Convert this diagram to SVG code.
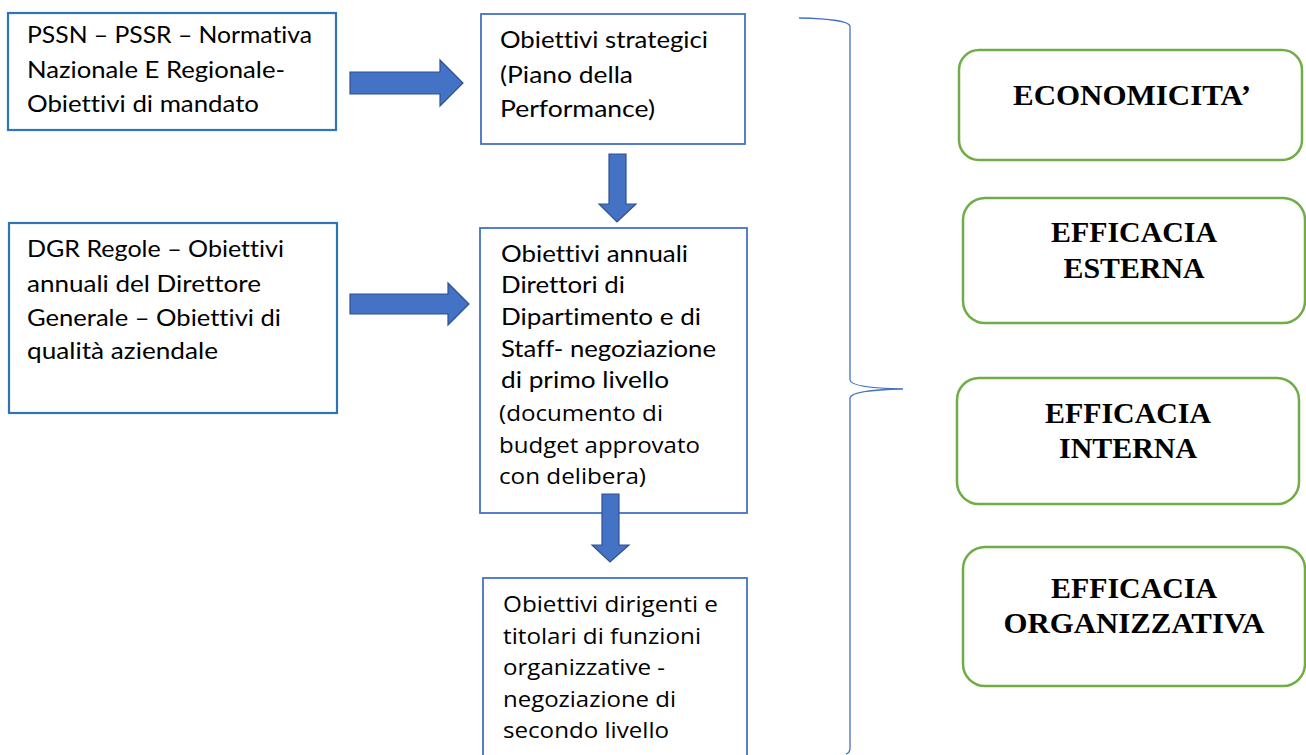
<svg xmlns="http://www.w3.org/2000/svg" width="1306" height="755" viewBox="0 0 1306 755">
<style>
.bx{fill:#fff;stroke:#4472C4;stroke-width:1.8}
.bx2{fill:#fff;stroke:#2E75B6;stroke-width:2.2}
.gb{fill:#fff;stroke:#70AD47;stroke-width:2.5}
text{font-variant-ligatures:none}
.c{font-family:Lato,"Liberation Sans",sans-serif;font-size:23px;fill:#000}
.s{font-family:"Open Sans","Liberation Sans",sans-serif;font-size:21.5px;fill:#000}
.t{font-family:"Liberation Serif","Times New Roman",serif;font-weight:bold;font-size:30px;fill:#000;text-anchor:middle}
.ar{fill:#4472C4;stroke:#2F528F;stroke-width:1.2}
.br{fill:none;stroke:#4472C4;stroke-width:1.3}
</style>
<rect width="1306" height="755" fill="#fff"/>
<g id="n1">
<rect class="bx2" x="8" y="13" width="328" height="117"/>
<text class="c" x="27" y="43" textLength="285" lengthAdjust="spacingAndGlyphs">PSSN – PSSR – Normativa</text>
<text class="c" x="27" y="78" textLength="258" lengthAdjust="spacingAndGlyphs">Nazionale E Regionale-</text>
<text class="c" x="27" y="112" textLength="232" lengthAdjust="spacingAndGlyphs">Obiettivi di mandato</text>
</g>
<g id="n2">
<rect class="bx" x="481" y="14" width="264" height="130"/>
<text class="c" x="500" y="48" textLength="208" lengthAdjust="spacingAndGlyphs">Obiettivi strategici</text>
<text class="c" x="500" y="83" textLength="133" lengthAdjust="spacingAndGlyphs">(Piano della</text>
<text class="c" x="500" y="117" textLength="155" lengthAdjust="spacingAndGlyphs">Performance)</text>
</g>
<g id="n3">
<rect class="bx2" x="9" y="223" width="328" height="190"/>
<text class="c" x="27" y="257" textLength="257" lengthAdjust="spacingAndGlyphs">DGR Regole – Obiettivi</text>
<text class="c" x="27" y="292" textLength="234" lengthAdjust="spacingAndGlyphs">annuali del Direttore</text>
<text class="c" x="27" y="326" textLength="254" lengthAdjust="spacingAndGlyphs">Generale – Obiettivi di</text>
<text class="c" x="27" y="359" textLength="191" lengthAdjust="spacingAndGlyphs">qualità aziendale</text>
</g>
<g id="n4">
<rect class="bx" x="480" y="228" width="267" height="285"/>
<text class="c" x="501" y="262" textLength="187" lengthAdjust="spacingAndGlyphs">Obiettivi annuali</text>
<text class="c" x="501" y="293" textLength="124" lengthAdjust="spacingAndGlyphs">Direttori di</text>
<text class="c" x="501" y="325" textLength="200" lengthAdjust="spacingAndGlyphs">Dipartimento e di</text>
<text class="c" x="501" y="357" textLength="215" lengthAdjust="spacingAndGlyphs">Staff- negoziazione</text>
<text class="c" x="501" y="388" textLength="168" lengthAdjust="spacingAndGlyphs">di primo livello</text>
<text class="s" x="499" y="421" textLength="164" lengthAdjust="spacingAndGlyphs">(documento di</text>
<text class="s" x="499" y="453" textLength="201" lengthAdjust="spacingAndGlyphs">budget approvato</text>
<text class="s" x="499" y="484" textLength="147" lengthAdjust="spacingAndGlyphs">con delibera)</text>
</g>
<g id="n5">
<rect class="bx" x="483" y="578" width="264" height="185"/>
<text class="s" x="503" y="612" textLength="215" lengthAdjust="spacingAndGlyphs">Obiettivi dirigenti e</text>
<text class="s" x="503" y="644" textLength="198" lengthAdjust="spacingAndGlyphs">titolari di funzioni</text>
<text class="s" x="503" y="675" textLength="162" lengthAdjust="spacingAndGlyphs">organizzative -</text>
<text class="s" x="503" y="707" textLength="173" lengthAdjust="spacingAndGlyphs">negoziazione di</text>
<text class="s" x="503" y="738" textLength="166" lengthAdjust="spacingAndGlyphs">secondo livello</text>
</g>
<g id="n6">
<rect class="gb" x="959" y="50" width="343" height="110" rx="20"/>
<text class="t" x="1132" y="105" textLength="238" lengthAdjust="spacingAndGlyphs">ECONOMICITA’</text>
</g>
<g id="n7">
<rect class="gb" x="963" y="198" width="342" height="125" rx="22"/>
<text class="t" x="1134" y="242" textLength="166" lengthAdjust="spacingAndGlyphs">EFFICACIA</text>
<text class="t" x="1134" y="278" textLength="141" lengthAdjust="spacingAndGlyphs">ESTERNA</text>
</g>
<g id="n8">
<rect class="gb" x="957" y="378" width="342" height="126" rx="22"/>
<text class="t" x="1128" y="423" textLength="166" lengthAdjust="spacingAndGlyphs">EFFICACIA</text>
<text class="t" x="1128" y="458" textLength="138" lengthAdjust="spacingAndGlyphs">INTERNA</text>
</g>
<g id="n9">
<rect class="gb" x="963" y="547" width="342" height="139" rx="22"/>
<text class="t" x="1134" y="598" textLength="166" lengthAdjust="spacingAndGlyphs">EFFICACIA</text>
<text class="t" x="1134" y="633" textLength="261" lengthAdjust="spacingAndGlyphs">ORGANIZZATIVA</text>
</g>
<g id="connectors">
<polygon class="ar" points="350,72 440,72 440,60 463,83 440,106 440,94 350,94"/>
<polygon class="ar" points="350,294 448,294 448,283 469,304 448,325 448,314 350,314"/>
<polygon class="ar" points="609,154 626,154 626,204 636,204 617,222 599,204 609,204"/>
<polygon class="ar" points="602,494 619,494 619,545 629,545 610,562 592,545 602,545"/>
<path class="br" d="M799 18 Q848 19 850 26 L850 380 Q851 388 903 389 Q851 390 850 398 L850 748 Q850 753 846 754"/>
</g>
</svg>
